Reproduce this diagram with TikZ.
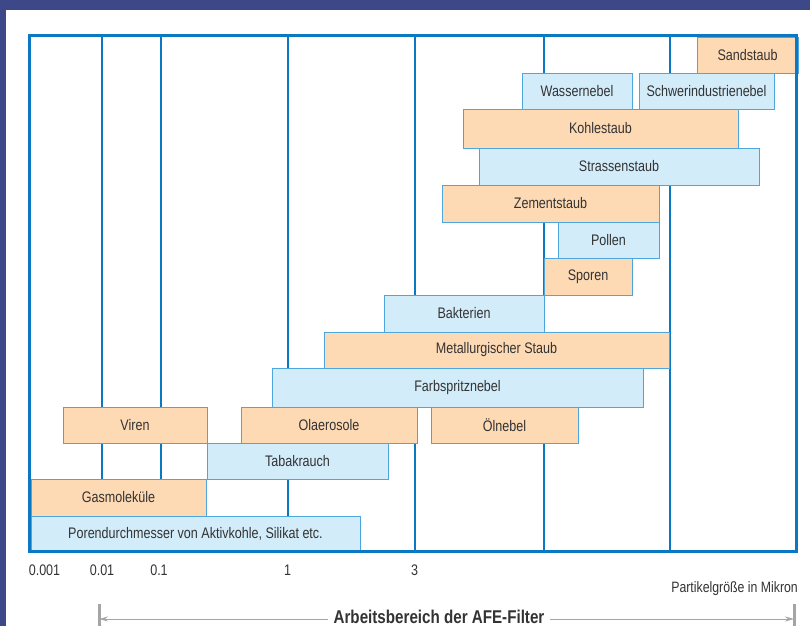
\documentclass[tikz,border=0pt]{standalone}
\usepackage{fontspec}
\setmainfont{Liberation Sans}[FakeStretch=0.82]
\usetikzlibrary{arrows.meta}
\definecolor{band}{HTML}{3C4887}
\definecolor{frameblue}{HTML}{0A78C2}
\definecolor{boxline}{HTML}{4DA6DE}
\definecolor{orfill}{HTML}{FDD9B4}
\definecolor{blfill}{HTML}{D2ECFA}
\definecolor{txt}{HTML}{333333}
\definecolor{arrgray}{HTML}{A5A5A5}
\tikzset{
  boxbase/.style={draw=boxline, line width=0.9pt, inner sep=0pt, outer sep=0pt, anchor=north west, text=txt, font=\fontsize{15.3}{18}\selectfont},
  obox/.style={boxbase, fill=orfill},
  bbox/.style={boxbase, fill=blfill},
  gridline/.style={draw=frameblue, line width=2pt},
  axislabel/.style={text=txt, font=\fontsize{15.3}{18}\selectfont, inner sep=0pt, anchor=base},
  rangearrow/.style={draw=arrgray, line width=1pt, -{Stealth[length=9pt,width=5pt]}},
  rangebar/.style={draw=arrgray, line width=3pt}
}
\newcommand\bx[7]{\node[#6, minimum width={(#4-#2)*1pt}, minimum height={(#5-#3)*1pt}] (#1) at (#2,#3) {#7};}
\begin{document}
\begin{tikzpicture}[x=1pt,y=-1pt]
\useasboundingbox (0,0) rectangle (810,626);
\fill[white] (0,0) rectangle (810,626);
\fill[band] (0,0) rectangle (810,10);
\fill[band] (0,0) rectangle (6,626);
% grid lines
\foreach \gx in {102,160.5,287.5,414.5,544,670}
  \draw[gridline] (\gx,35.5) -- (\gx,551.5);
% boxes
\bx{sand}{697}{37}{798}{73}{obox}{Sandstaub}
\bx{wasser}{522}{73}{632}{109}{bbox}{Wassernebel}
\bx{schwer}{639}{73}{774}{109}{bbox}{Schwerindustrienebel}
\bx{kohle}{463}{109}{738}{148}{obox}{Kohlestaub}
\bx{strasse}{479}{148}{759}{185}{bbox}{Strassenstaub}
\bx{zement}{442}{185}{659}{222}{obox}{Zementstaub}
\bx{pollen}{558}{222}{659}{258}{bbox}{Pollen}
\bx{sporen}{544}{258}{632}{295}{obox}{Sporen}
\bx{bakt}{384}{295}{544}{332}{bbox}{Bakterien}
\bx{metall}{324}{332}{669}{368}{obox}{Metallurgischer Staub}
\bx{farb}{272}{368}{643}{407}{bbox}{Farbspritznebel}
\bx{viren}{63}{407}{207}{443}{obox}{Viren}
\bx{olae}{241}{407}{417}{443}{obox}{Olaerosole}
\bx{oel}{431}{407}{578}{443}{obox}{Ölnebel}
\bx{tabak}{207}{443}{388}{479}{bbox}{Tabakrauch}
\bx{gas}{31}{479}{206}{516}{obox}{Gasmoleküle}
\bx{poren}{31}{516}{360}{551}{bbox}{Porendurchmesser von Aktivkohle, Silikat etc.}
% frame
\draw[draw=frameblue, line width=3.5pt] (29.5,35.5) rectangle (796.5,551.5);
% axis labels
\node[axislabel] (l0001) at (44.5,575) {0.001};
\node[axislabel] (l001) at (102,575) {0.01};
\node[axislabel] (l01) at (159,575) {0.1};
\node[axislabel] (l1) at (287.5,575) {1};
\node[axislabel] (l3) at (414.5,575) {3};
\node[axislabel, anchor=base east, font=\fontsize{15}{17}\selectfont] (unit) at (798,592) {Partikelgröße in Mikron};
% working range
\coordinate (barLtop) at (99,604);
\coordinate (barLbot) at (99,626);
\coordinate (barRtop) at (794,604);
\coordinate (barRbot) at (794,626);
\coordinate (al) at (99,619);
\coordinate (ar) at (794,619);
\draw[rangebar] (barLtop) -- (barLbot);
\draw[rangebar] (barRtop) -- (barRbot);
\node[text=txt, font=\bfseries\fontsize{18.5}{22}\selectfont, inner xsep=5pt, inner ysep=0pt, anchor=base] (afe) at (439,623) {Arbeitsbereich der AFE-Filter};
\draw[rangearrow] (afe.west |- al) -- (al);
\draw[rangearrow] (afe.east |- ar) -- (ar);
\end{tikzpicture}
\end{document}
